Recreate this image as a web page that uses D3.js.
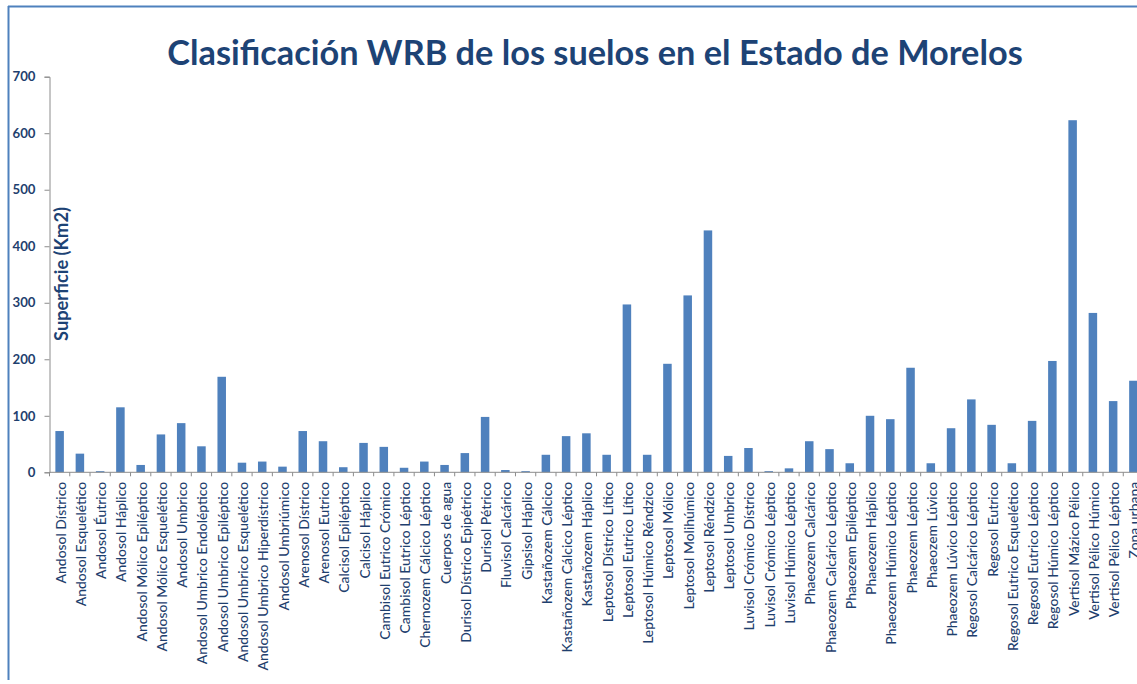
<!DOCTYPE html>
<html>
<head>
<meta charset="utf-8">
<script src="https://cdn.jsdelivr.net/npm/d3@7"></script>
<style>
  html, body { margin: 0; padding: 0; background: #ffffff; }
  svg { display: block; }
</style>
</head>
<body>
<svg id="chart" width="1137" height="684"></svg>
<script>
const categories = [
  "Andosol Dístrico", "Andosol Esquelético", "Andosol Éutrico", "Andosol Háplico",
  "Andosol Mólico Epiléptico", "Andosol Mólico Esquelético", "Andosol Umbrico",
  "Andosol Umbrico Endoléptico", "Andosol Umbrico Epiléptico", "Andosol Umbrico Esquelético",
  "Andosol Umbrico Hiperdístrico", "Andosol Umbriúmico", "Arenosol Dístrico", "Arenosol Eutrico",
  "Calcisol Epiléptico", "Calcisol Háplico", "Cambisol Eutrico Crómico", "Cambisol Eutrico Léptico",
  "Chernozem Cálcico Léptico", "Cuerpos de agua", "Durisol Dístrico Epipétrico", "Durisol Pétrico",
  "Fluvisol Calcárico", "Gipsisol Háplico", "Kastañozem  Cálcico", "Kastañozem Cálcico Léptico",
  "Kastañozem Háplico", "Leptosol Dístrico Lítico", "Leptosol Eutrico Lítico",
  "Leptosol Húmico Réndzico", "Leptosol Mólico", "Leptosol Molihúmico", "Leptosol Réndzico",
  "Leptosol Umbrico", "Luvisol Crómico Dístrico", "Luvisol Crómico Léptico",
  "Luvisol Húmico Léptico", "Phaeozem Calcárico", "Phaeozem Calcárico Léptico",
  "Phaeozem Epiléptico", "Phaeozem Háplico", "Phaeozem Húmico Léptico", "Phaeozem Léptico",
  "Phaeozem Lúvico", "Phaeozem Lúvico Léptico", "Regosol Calcárico Léptico", "Regosol Eutrico",
  "Regosol Eutrico Esquelético", "Regosol Eutrico Léptico", "Regosol Húmico Léptico",
  "Vertisol Mázico Pélico", "Vertisol Pélico Húmico", "Vertisol Pélico Léptico", "Zona urbana"
];
const superficie = [
  73, 33, 2, 115, 13, 67, 87, 46, 169, 17, 19, 10, 73, 55, 9, 52, 45, 8, 19, 13,
  34, 98, 4, 2, 31, 64, 69, 31, 297, 31, 192, 313, 428, 29, 43, 2, 7, 55, 41, 16,
  100, 94, 185, 16, 78, 129, 84, 16, 91, 197, 623, 282, 126, 162
];
const yTicks = [0, 100, 200, 300, 400, 500, 600, 700];
const titleText = "Clasificación WRB de los suelos en el Estado de Morelos";
const yLabel = "Superficie (Km2)";

const svg = d3.select("#chart");
const textColor = "#1f3f6e";
const axisColor = "#8c8c8c";
const barColor = "#4f81bd";
const font = "Lato, 'Open Sans', sans-serif";

// fit a text element's font size so it spans a target width
function fit(sel, base, target) {
  sel.attr("font-size", base);
  const w = sel.node().getComputedTextLength();
  const s = base * target / w;
  sel.attr("font-size", s);
  return s;
}

const x0 = 49.5, step = 20.26;
const x = d3.scaleBand()
  .domain(categories)
  .range([x0, x0 + step * categories.length])
  .paddingInner(0.58)
  .paddingOuter(0.29);
const y = d3.scaleLinear().domain([0, 700]).range([472.3, 76.7]);

// frame
svg.append("line").attr("x1", 8.5).attr("x2", 8.5).attr("y1", 6).attr("y2", 680)
  .attr("stroke", "#4f81bd").attr("stroke-width", 2);
svg.append("line").attr("x1", 8).attr("x2", 1137).attr("y1", 6.5).attr("y2", 6.5)
  .attr("stroke", "#4f81bd").attr("stroke-width", 2);

// title
const title = svg.append("text")
  .attr("x", 595).attr("y", 65)
  .attr("text-anchor", "middle")
  .attr("font-family", font)
  .attr("font-weight", "bold")
  .attr("fill", "#1d4375")
  .text(titleText);
fit(title, 30, 856);

// bars
svg.append("g").selectAll("rect")
  .data(categories.map((c, i) => ({ c, v: superficie[i] })))
  .join("rect")
  .attr("x", d => x(d.c))
  .attr("width", x.bandwidth())
  .attr("y", d => y(d.v))
  .attr("height", d => y(0) - y(d.v))
  .attr("fill", barColor);

// y axis
const yAxis = svg.append("g")
  .attr("transform", `translate(${x0},0)`)
  .call(d3.axisLeft(y).tickValues(yTicks).tickSize(5).tickPadding(9).tickFormat(d3.format("d")));
yAxis.select(".domain").attr("stroke", axisColor);
yAxis.selectAll(".tick line").attr("stroke", axisColor);
const yt = yAxis.selectAll(".tick text")
  .attr("font-family", font)
  .attr("font-weight", "bold")
  .attr("fill", textColor);
const ytSize = fit(yAxis.selectAll(".tick text").filter(d => d === 700), 12.5, 23);
yt.attr("font-size", ytSize);

// x axis
const xAxis = svg.append("g").attr("transform", `translate(0,${y(0)})`);
xAxis.append("line")
  .attr("x1", x0).attr("x2", x0 + step * categories.length)
  .attr("stroke", axisColor);
xAxis.selectAll("line.tk")
  .data(d3.range(categories.length + 1))
  .join("line")
  .attr("class", "tk")
  .attr("x1", i => x0 + step * i).attr("x2", i => x0 + step * i)
  .attr("y1", 0).attr("y2", 4)
  .attr("stroke", axisColor);
const xl = xAxis.selectAll("text")
  .data(categories)
  .join("text")
  .attr("transform", d => `translate(${x(d) + x.bandwidth() / 2 + 1},0) rotate(-90)`)
  .attr("x", -9.5)
  .attr("dy", "0.36em")
  .attr("text-anchor", "end")
  .attr("font-family", font)
  .attr("font-weight", 500)
  .attr("fill", textColor)
  .text(d => d);
const xlSize = fit(xl.filter(d => d === "Andosol Umbrico Hiperdístrico"), 13, 189);
xl.attr("font-size", xlSize);

// y label
const yl = svg.append("text")
  .attr("transform", "translate(68,274) rotate(-90)")
  .attr("text-anchor", "middle")
  .attr("font-family", font)
  .attr("font-weight", "bold")
  .attr("fill", "#1d4375")
  .text(yLabel);
fit(yl, 15.5, 134);
</script>
</body>
</html>
